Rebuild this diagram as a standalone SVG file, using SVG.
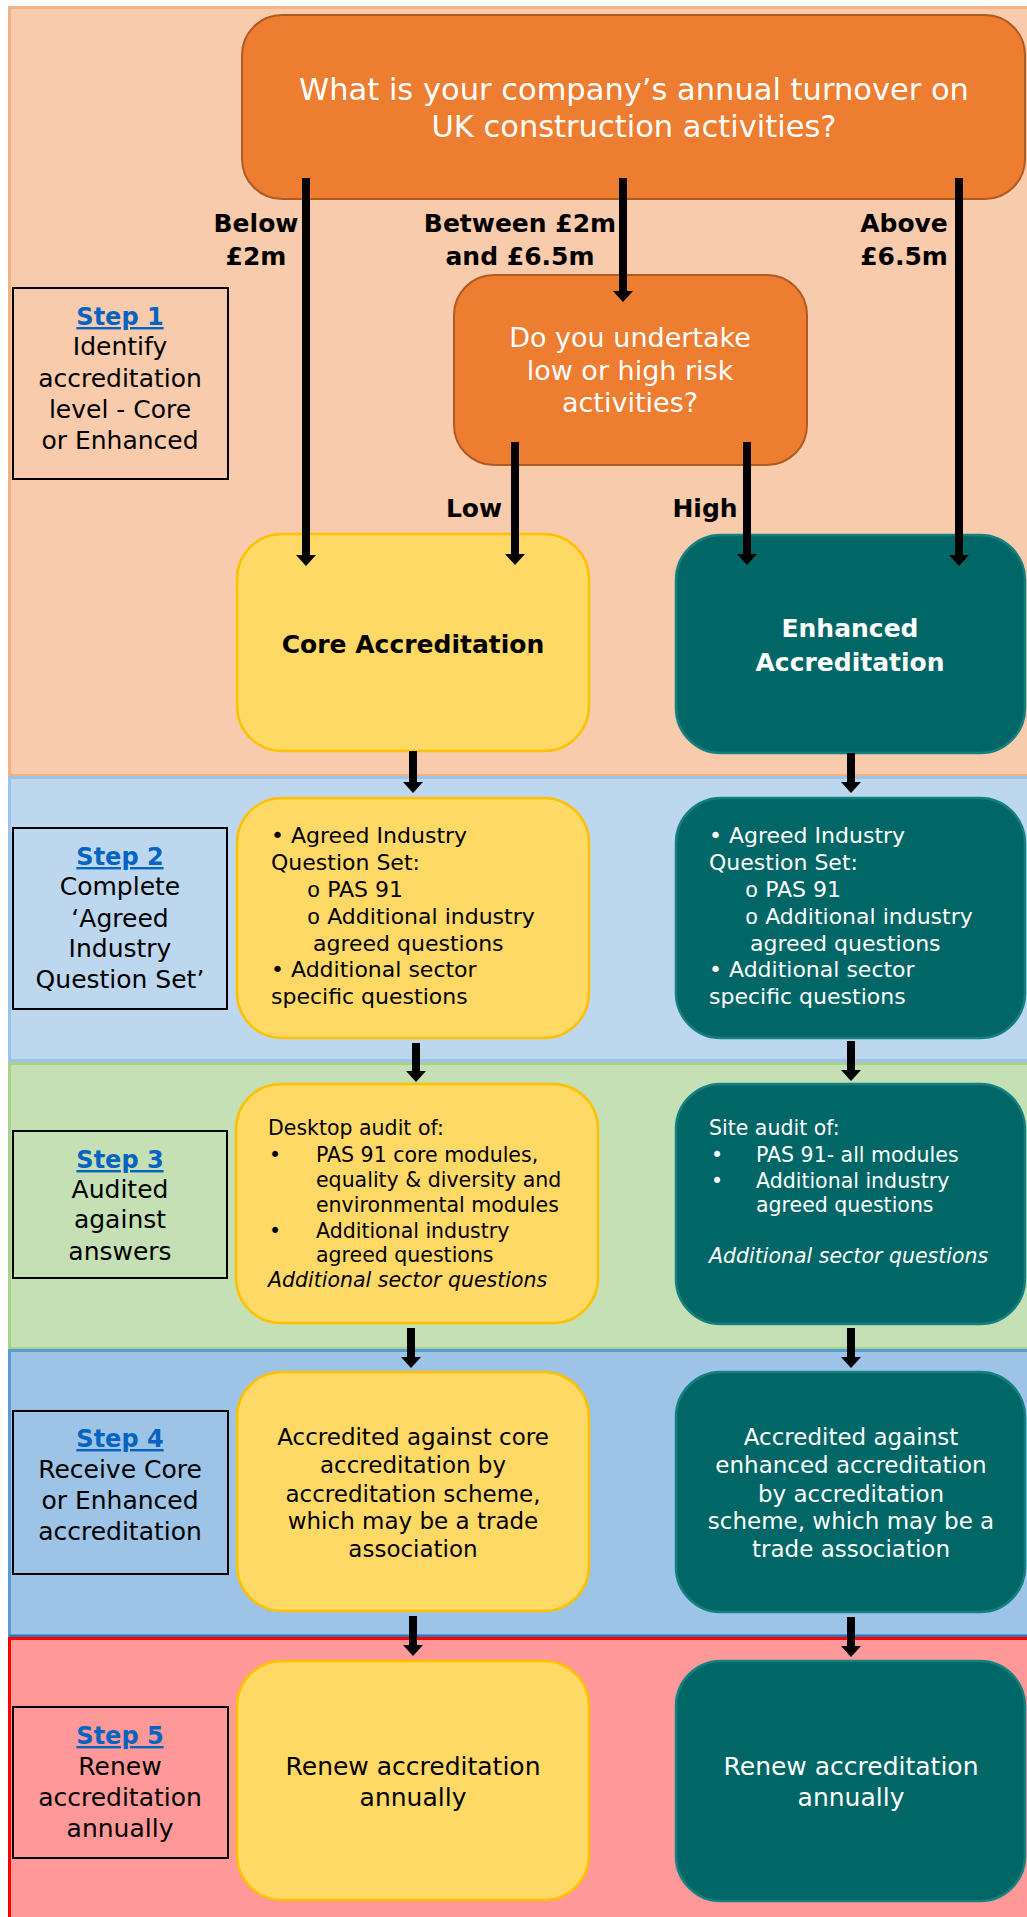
<svg xmlns="http://www.w3.org/2000/svg" width="1027" height="1917" viewBox="0 0 1027 1917">
<defs>
<marker id="ah" markerUnits="userSpaceOnUse" markerWidth="12" markerHeight="22" refX="0" refY="0" viewBox="0 -11 12 22" orient="auto" overflow="visible">
<path d="M0,-10 L11,0 L0,10 z" fill="#000"/>
</marker>
<style>
text{font-family:"DejaVu Sans",Verdana,sans-serif}
.band{stroke-width:3}
.lbl{fill:none;stroke:#000;stroke-width:2}
.step{font-size:24px;font-weight:bold;fill:#0563C1;text-decoration:underline;text-anchor:middle}
.st{font-size:25px;fill:#000;text-anchor:middle}
.orange{fill:#ED7D31;stroke:#AE5A21;stroke-width:2}
.yel{fill:#FFD966;stroke:#FFC000;stroke-width:2.5}
.teal{fill:#006666;stroke:#138080;stroke-width:2.5}
.qt{font-size:30.5px;fill:#fff;text-anchor:middle}
.rq{font-size:27px;fill:#fff;text-anchor:middle}
.bl{font-size:25px;font-weight:bold;fill:#000;text-anchor:middle}
.hd{font-size:25px;font-weight:bold;text-anchor:middle}
.s2{font-size:22px}
.s3{font-size:20.5px}
.s4{font-size:23px;text-anchor:middle}
.s5{font-size:25px;text-anchor:middle}
.dk{fill:#000}
.wt{fill:#fff}
.it{font-style:italic}
.mono{font-family:"Liberation Mono","Courier New",monospace}
.conn line{stroke:#000;stroke-width:8;marker-end:url(#ah)}
</style>
</defs>
<rect width="1027" height="1917" fill="#fff"/>
<g id="bands">
<rect class="band" x="9.5" y="7.5" width="1030" height="768" fill="#F8CBAD" stroke="#F4B183"/>
<rect class="band" x="9.5" y="777.5" width="1030" height="283" fill="#BDD7EE" stroke="#9DC3E6"/>
<rect class="band" x="9.5" y="1063.5" width="1030" height="285" fill="#C5E0B4" stroke="#A9D18E"/>
<rect class="band" x="9.5" y="1350.5" width="1030" height="285" fill="#9DC3E6" stroke="#5B9BD5"/>
<line x1="9" y1="1636" x2="1027" y2="1636" stroke="#2E75B6" stroke-width="2"/>
<rect class="band" x="9.5" y="1638.5" width="1030" height="290" fill="#FF9999" stroke="#FF0000"/>
</g>
<g id="step1">
<rect class="lbl" x="13" y="288" width="215" height="191"/>
<text class="step" x="120" y="325">Step 1</text>
<text class="st" x="120" y="355">Identify</text>
<text class="st" x="120" y="387">accreditation</text>
<text class="st" x="120" y="418">level - Core</text>
<text class="st" x="120" y="449">or Enhanced</text>
</g>
<g id="step2">
<rect class="lbl" x="13" y="828" width="214" height="181"/>
<text class="step" x="120" y="865">Step 2</text>
<text class="st" x="120" y="895">Complete</text>
<text class="st" x="120" y="927">‘Agreed</text>
<text class="st" x="120" y="957">Industry</text>
<text class="st" x="120" y="988">Question Set’</text>
</g>
<g id="step3">
<rect class="lbl" x="13" y="1131" width="214" height="147"/>
<text class="step" x="120" y="1168">Step 3</text>
<text class="st" x="120" y="1198">Audited</text>
<text class="st" x="120" y="1228">against</text>
<text class="st" x="120" y="1260">answers</text>
</g>
<g id="step4">
<rect class="lbl" x="13" y="1411" width="215" height="163"/>
<text class="step" x="120" y="1447">Step 4</text>
<text class="st" x="120" y="1478">Receive Core</text>
<text class="st" x="120" y="1509">or Enhanced</text>
<text class="st" x="120" y="1540">accreditation</text>
</g>
<g id="step5">
<rect class="lbl" x="13" y="1707" width="215" height="151"/>
<text class="step" x="120" y="1744">Step 5</text>
<text class="st" x="120" y="1775">Renew</text>
<text class="st" x="120" y="1806">accreditation</text>
<text class="st" x="120" y="1837">annually</text>
</g>
<g id="turnover">
<rect class="orange" x="242" y="15" width="783" height="184" rx="40"/>
<text class="qt" x="634" y="100">What is your company’s annual turnover on</text>
<text class="qt" x="634" y="137">UK construction activities?</text>
</g>
<g id="risk">
<rect class="orange" x="454" y="275" width="353" height="190" rx="40"/>
<text class="rq" x="630" y="347">Do you undertake</text>
<text class="rq" x="630" y="380">low or high risk</text>
<text class="rq" x="630" y="412">activities?</text>
</g>
<g id="core1">
<rect class="yel" x="237" y="534" width="352" height="217" rx="45"/>
<text class="hd dk" x="413" y="653">Core Accreditation</text>
</g>
<g id="enh1">
<rect class="teal" x="676" y="535" width="349" height="218" rx="45"/>
<text class="hd wt" x="850" y="637">Enhanced</text>
<text class="hd wt" x="850" y="671">Accreditation</text>
</g>
<g id="core2">
<rect class="yel" x="237" y="798" width="352" height="240" rx="45"/>
<g class="s2 dk">
<text x="271" y="843">• Agreed Industry</text>
<text x="271" y="870">Question Set:</text>
<text x="307" y="897"><tspan class="mono">o</tspan> PAS 91</text>
<text x="307" y="924"><tspan class="mono">o</tspan> Additional industry</text>
<text x="313" y="951">agreed questions</text>
<text x="271" y="977">• Additional sector</text>
<text x="271" y="1004">specific questions</text>
</g>
</g>
<g id="enh2">
<rect class="teal" x="676" y="798" width="349" height="240" rx="45"/>
<g class="s2 wt">
<text x="709" y="843">• Agreed Industry</text>
<text x="709" y="870">Question Set:</text>
<text x="745" y="897"><tspan class="mono">o</tspan> PAS 91</text>
<text x="745" y="924"><tspan class="mono">o</tspan> Additional industry</text>
<text x="750" y="951">agreed questions</text>
<text x="709" y="977">• Additional sector</text>
<text x="709" y="1004">specific questions</text>
</g>
</g>
<g id="core3">
<rect class="yel" x="236" y="1084" width="362" height="239" rx="45"/>
<g class="s3 dk">
<text x="268" y="1135">Desktop audit of:</text>
<text x="269" y="1162">•</text>
<text x="316" y="1162">PAS 91 core modules,</text>
<text x="316" y="1187">equality &amp; diversity and</text>
<text x="316" y="1212">environmental modules</text>
<text x="269" y="1238">•</text>
<text x="316" y="1238">Additional industry</text>
<text x="316" y="1262">agreed questions</text>
<text class="it" x="268" y="1287">Additional sector questions</text>
</g>
</g>
<g id="enh3">
<rect class="teal" x="676" y="1084" width="349" height="240" rx="45"/>
<g class="s3 wt">
<text x="709" y="1135">Site audit of:</text>
<text x="711" y="1162">•</text>
<text x="756" y="1162">PAS 91- all modules</text>
<text x="711" y="1188">•</text>
<text x="756" y="1188">Additional industry</text>
<text x="756" y="1212">agreed questions</text>
<text class="it" x="709" y="1263">Additional sector questions</text>
</g>
</g>
<g id="core4">
<rect class="yel" x="237" y="1372" width="352" height="239" rx="45"/>
<g class="s4 dk">
<text x="413" y="1445">Accredited against core</text>
<text x="413" y="1473">accreditation by</text>
<text x="413" y="1502">accreditation scheme,</text>
<text x="413" y="1529">which may be a trade</text>
<text x="413" y="1557">association</text>
</g>
</g>
<g id="enh4">
<rect class="teal" x="676" y="1372" width="349" height="240" rx="45"/>
<g class="s4 wt">
<text x="851" y="1445">Accredited against</text>
<text x="851" y="1473">enhanced accreditation</text>
<text x="851" y="1502">by accreditation</text>
<text x="851" y="1529">scheme, which may be a</text>
<text x="851" y="1557">trade association</text>
</g>
</g>
<g id="core5">
<rect class="yel" x="237" y="1661" width="352" height="239" rx="45"/>
<text class="s5 dk" x="413" y="1775">Renew accreditation</text>
<text class="s5 dk" x="413" y="1806">annually</text>
</g>
<g id="enh5">
<rect class="teal" x="676" y="1661" width="349" height="240" rx="45"/>
<text class="s5 wt" x="851" y="1775">Renew accreditation</text>
<text class="s5 wt" x="851" y="1806">annually</text>
</g>
<g id="connectors" class="conn">
<line x1="306" y1="178" x2="306" y2="555"/>
<line x1="623" y1="178" x2="623" y2="291"/>
<line x1="959" y1="178" x2="959" y2="555"/>
<line x1="515" y1="442" x2="515" y2="554"/>
<line x1="747" y1="442" x2="747" y2="554"/>
<line x1="413" y1="751" x2="413" y2="782"/>
<line x1="851" y1="753" x2="851" y2="782"/>
<line x1="416" y1="1043" x2="416" y2="1071"/>
<line x1="851" y1="1041" x2="851" y2="1070"/>
<line x1="411" y1="1328" x2="411" y2="1357"/>
<line x1="851" y1="1328" x2="851" y2="1357"/>
<line x1="413" y1="1616" x2="413" y2="1645"/>
<line x1="851" y1="1617" x2="851" y2="1646"/>
</g>
<g id="labels">
<text class="bl" x="256" y="232">Below</text>
<text class="bl" x="256" y="265">£2m</text>
<text class="bl" x="520" y="232">Between £2m</text>
<text class="bl" x="520" y="265">and £6.5m</text>
<text class="bl" x="904" y="232">Above</text>
<text class="bl" x="904" y="265">£6.5m</text>
<text class="bl" x="474" y="517">Low</text>
<text class="bl" x="705" y="517">High</text>
</g>
</svg>
